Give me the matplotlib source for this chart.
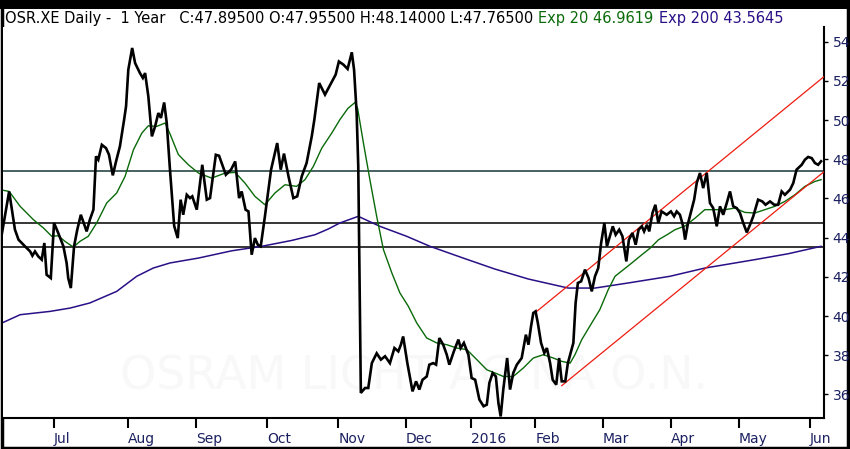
import matplotlib
matplotlib.use("Agg")
import matplotlib.pyplot as plt
from matplotlib.patches import Rectangle

# trading-day index, 0 = first session of July 2015
price_day = [-16.2, -13.9, -12.1, -11.0, -9.0, -7.4, -6.7, -5.9, -4.9, -3.8, -3.0, -2.3, -1.0,
             0.0, 1.3, 2.9, 3.9, 4.4, 5.2, 6.2, 7.2, 8.3, 10.1, 11.1, 12.2, 13.0, 13.7, 14.8,
             16.1, 17.0, 18.2, 19.2, 20.4, 21.7, 22.3, 23.0, 24.2, 25.1, 26.6, 27.5, 28.2, 29.2,
             30.3, 31.3, 32.3, 33.1, 34.1, 34.9, 35.9, 37.2, 38.3, 39.2, 40.0, 41.1, 42.1, 42.8,
             44.2, 45.9, 47.3, 48.3, 50.1, 51.1, 53.2, 54.8, 56.1, 57.3, 58.1, 59.3, 60.2, 61.2,
             62.2, 63.1, 64.0, 65.3, 67.2, 69.1, 70.2, 71.2, 72.6, 74.1, 75.3, 76.7, 78.2, 79.8,
             80.6, 82.1, 83.9, 85.8, 87.2, 88.2, 89.6, 90.9, 92.2, 92.9, 93.7, 94.2, 95.0, 96.3,
             97.3, 98.4, 99.9, 101.2, 102.5, 104.0, 105.4, 106.6, 107.4, 108.1, 109.4, 111.0,
             112.1, 113.1, 114.1, 115.4, 116.2, 117.4, 118.3, 119.3, 120.5, 121.6, 122.4, 123.8,
             125.2, 125.9, 126.9, 128.3, 129.3, 130.4, 131.7, 133.0, 134.0, 134.8, 135.8, 136.8,
             137.6, 138.3, 139.1, 140.3, 141.2, 142.2, 143.3, 144.8, 146.1, 146.9, 147.7, 148.4,
             149.1, 149.8, 150.8, 151.8, 152.6, 153.6, 154.4, 155.5, 156.4, 157.2, 158.3, 159.1,
             160.8, 161.5, 162.2, 163.2, 164.4, 165.5, 166.5, 167.5, 168.5, 169.4, 170.4, 171.2,
             172.1, 173.0, 173.9, 175.0, 176.0, 177.2, 178.0, 179.1, 180.1, 181.0, 182.0, 182.7,
             183.6, 184.3, 185.3, 186.2, 187.1, 188.1, 189.7, 191.0, 192.0, 192.8, 193.8, 194.8,
             195.4, 196.2, 197.4, 198.2, 199.0, 200.0, 201.0, 202.1, 203.1, 204.1, 205.2, 206.2,
             207.2, 208.3, 209.3, 210.3, 211.4, 212.4, 213.4, 214.5, 215.5, 216.5, 218.0, 219.3,
             220.3, 221.7, 223.0, 224.2, 225.3, 226.3, 227.9, 228.9, 229.9, 231.5, 232.5, 233.5,
             234.6, 235.6, 236.6, 237.5]
price = [44.15, 46.36, 44.41, 43.90, 43.56, 43.30, 43.08, 43.30, 43.05, 42.88, 43.73, 42.11, 41.94,
         44.75, 44.24, 43.56, 42.71, 41.94, 41.43, 43.56, 44.41, 45.17, 44.32, 44.92, 45.43, 48.15,
         47.98, 48.74, 48.57, 48.24, 47.18, 47.89, 48.66, 50.02, 50.70, 52.57, 53.68, 52.91, 52.40,
         52.15, 52.40, 51.21, 49.17, 49.68, 50.36, 50.11, 50.90, 49.85, 47.47, 44.60, 43.98, 45.94,
         45.17, 46.19, 46.02, 46.11, 45.43, 47.72, 45.94, 46.02, 48.23, 48.18, 47.21, 47.47, 47.89,
         46.02, 46.36, 45.43, 45.34, 43.13, 43.98, 43.64, 43.56, 45.09, 47.47, 48.83, 47.47, 48.29,
         47.13, 46.02, 46.11, 47.13, 47.81, 49.17, 50.02, 51.89, 51.30, 51.89, 52.32, 52.99, 52.83,
         52.61, 53.46, 52.57, 50.36, 47.64, 36.08, 36.33, 36.33, 37.60, 38.10, 37.78, 37.95, 37.60,
         38.37, 38.20, 38.54, 38.96, 37.60, 36.16, 36.67, 36.25, 36.75, 36.92, 37.52, 37.60, 37.52,
         38.88, 38.54, 38.03, 37.52, 38.20, 38.80, 38.37, 38.63, 38.03, 36.84, 36.75, 35.74, 35.40,
         35.48, 36.59, 37.09, 36.92, 35.56, 34.88, 36.25, 37.86, 36.25, 37.10, 37.52, 37.86, 39.05,
         38.54, 39.48, 40.16, 40.24, 39.65, 38.63, 38.12, 38.37, 37.60, 36.75, 36.50, 37.86, 36.67,
         36.67, 37.60, 38.63, 40.67, 41.69, 41.77, 42.37, 41.94, 41.26, 42.03, 42.45, 43.73, 44.75,
         43.56, 44.07, 44.58, 44.15, 44.41, 44.07, 42.79, 43.90, 44.24, 43.64, 44.41, 44.58, 44.32,
         44.66, 44.32, 45.26, 45.68, 44.75, 45.34, 45.17, 45.34, 45.09, 45.34, 45.17, 44.58, 43.90,
         44.66, 45.43, 45.94, 46.79, 47.30, 46.53, 47.30, 45.77, 45.51, 44.58, 45.60, 45.17, 45.77,
         46.36, 45.60, 45.51, 45.26, 44.75, 44.27, 44.66, 45.09, 45.94, 45.85, 45.68, 45.85, 45.68,
         45.68, 46.36, 46.19, 46.45, 46.79, 47.47, 47.72, 47.98, 48.12, 48.06, 47.81, 47.72, 47.90]

ema20_day = [-16.7, -13.9, -10.5, -6.4, -3.3, -0.7, 1.3, 3.4, 6.0, 8.0, 10.6, 13.2, 16.3, 19.4,
             22.0, 24.6, 27.2, 29.2, 31.8, 34.4, 35.9, 38.5, 41.6, 44.7, 48.8, 53.0, 56.1, 59.1,
             62.2, 65.3, 68.4, 71.5, 75.1, 77.7, 80.3, 82.9, 86.0, 88.5, 91.0, 93.2, 94.0, 95.8,
             97.8, 99.9, 102.0, 104.6, 107.1, 109.7, 112.3, 115.4, 118.5, 121.6, 124.7, 127.8,
             130.9, 134.0, 136.5, 139.1, 142.2, 145.3, 148.4, 151.5, 154.6, 157.2, 159.8, 161.3,
             163.4, 166.5, 169.0, 171.6, 173.7, 176.3, 178.9, 182.0, 184.6, 187.2, 189.8, 192.3,
             195.4, 198.5, 201.5, 204.6, 207.7, 210.8, 213.9, 217.0, 220.1, 223.2, 226.3, 229.4,
             232.5, 235.6, 237.5]
ema20 = [46.45, 46.36, 45.60, 44.92, 44.50, 44.07, 44.10, 43.81, 43.52, 43.81, 44.07, 44.75, 45.77,
         46.28, 47.13, 48.49, 49.34, 49.71, 49.68, 49.85, 49.30, 48.24, 47.72, 47.30, 47.04, 47.30,
         47.33, 46.79, 46.11, 45.68, 46.28, 46.70, 46.62, 46.96, 47.64, 48.57, 49.34, 50.02, 50.60,
         50.90, 50.60, 48.83, 46.96, 45.09, 43.39, 42.20, 41.18, 40.50, 39.65, 38.88, 38.63, 38.54,
         38.37, 38.29, 37.78, 37.26, 37.10, 36.92, 36.92, 37.35, 37.86, 38.03, 37.86, 37.69, 37.60,
         38.03, 38.80, 39.65, 40.33, 41.35, 42.03, 42.37, 42.71, 43.13, 43.47, 43.90, 44.15, 44.41,
         44.60, 45.00, 45.43, 45.43, 45.43, 45.51, 45.29, 45.26, 45.43, 45.60, 45.85, 46.19, 46.62,
         46.87, 46.96]

ema200_day = [-16.1, -10.5, -1.2, 5.0, 11.1, 19.4, 25.6, 30.7, 35.9, 44.7, 55.0, 64.3, 73.6,
              80.8, 85.0, 88.5, 94.2, 100.9, 109.2, 116.4, 126.7, 136.5, 146.9, 159.2, 167.5,
              177.8, 190.7, 201.5, 217.0, 227.3, 237.5]
ema200 = [39.65, 40.07, 40.24, 40.41, 40.67, 41.26, 42.03, 42.45, 42.71, 42.96, 43.33, 43.56, 43.86,
          44.15, 44.45, 44.75, 45.09, 44.58, 44.07, 43.56, 42.96, 42.40, 41.89, 41.43, 41.43, 41.69,
          42.03, 42.45, 42.88, 43.18, 43.56]

# trend channel (start / end points)
upper_day, upper_val = [149.1, 238.5], [40.19, 52.23]
lower_day, lower_val = [157.2, 238.5], [36.45, 47.38]

# horizontal support / resistance levels
levels = [47.38, 44.75, 43.55]
level_colors = ["#173535", "black", "black"]

month_pos = [0, 23, 44, 66, 88, 109, 129, 149, 170, 191, 212, 234]
month_lab = ["Jul", "Aug", "Sep", "Oct", "Nov", "Dec", "2016", "Feb", "Mar", "Apr", "May", "Jun"]
y_ticks = [36, 38, 40, 42, 44, 46, 48, 50, 52, 54]

W, H = 850, 449
navy = "#1b2060"
fig = plt.figure(figsize=(W / 100, H / 100), dpi=100)
fig.patch.set_facecolor("white")
# black frame round the picture
fig.patches.append(Rectangle((1.5 / W, 1.5 / H), (W - 4) / W, (H - 6) / H, transform=fig.transFigure,
                             facecolor="none", edgecolor="black", lw=2.5, zorder=-5))
fig.patches.append(Rectangle((0, (H - 9) / H), 1, 9 / H, transform=fig.transFigure,
                             facecolor="black", edgecolor="none", zorder=-5))

ax = fig.add_axes([3 / W, 1 - 418 / H, 821.3 / W, 391 / H])
ax.set_xlim(-15.8, 238.5)
ax.set_ylim(34.8, 54.75)

# watermark
ax.text(0.5, 0.105, "OSRAM LICHT AG NA O.N.", transform=ax.transAxes, ha="center", va="center",
        fontsize=33, color="#f8f8f8", zorder=0)

for lv, c in zip(levels, level_colors):
    ax.axhline(lv, color=c, lw=1.1, zorder=2)

ax.plot(ema200_day, ema200, color="#2a0f86", lw=1.1, zorder=3)
ax.plot(ema20_day, ema20, color="#0a6a0a", lw=1.0, zorder=3)
ax.plot(upper_day, upper_val, color="#ee1b10", lw=0.9, zorder=3)
ax.plot(lower_day, lower_val, color="#ee1b10", lw=0.9, zorder=3)
ax.plot(price_day, price, color="black", lw=1.9, zorder=4, solid_joinstyle="miter")

for s in ["top", "left"]:
    ax.spines[s].set_visible(False)
ax.spines["bottom"].set_linewidth(1.5)
ax.spines["right"].set_linewidth(1.5)

ax.yaxis.tick_right()
ax.set_yticks(y_ticks)
ax.set_yticklabels([str(v) for v in y_ticks], color=navy, fontsize=10)
ax.tick_params(axis="y", direction="out", length=3, width=1, pad=3)

ax.set_xticks(month_pos)
ax.set_xticklabels(month_lab, color=navy, fontsize=10, ha="left")
ax.tick_params(axis="x", direction="out", length=7, width=1.5, pad=3)

# header line
hy = 1 - 19 / H
fig.text(5 / W, hy, "OSR.XE Daily -  1 Year   C:47.89500 O:47.95500 H:48.14000 L:47.76500",
         fontsize=10.5, color="black", va="center")
fig.text(538 / W, hy, "Exp 20 46.9619", fontsize=10.5, color="#0a6a0a", va="center")
fig.text(659 / W, hy, "Exp 200 43.5645", fontsize=10.5, color="#2a0f86", va="center")

fig.savefig("out.png", dpi=100, facecolor=fig.get_facecolor())
